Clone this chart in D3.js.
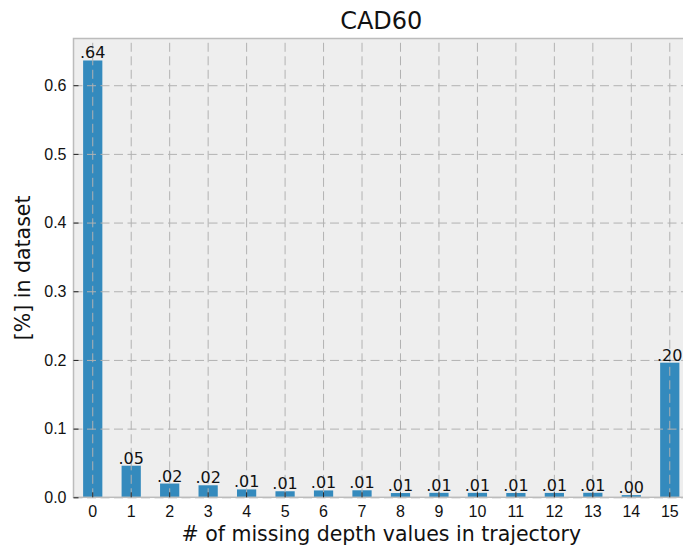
<!DOCTYPE html>
<html>
<head>
<meta charset="utf-8">
<title>CAD60</title>
<script src="https://d3js.org/d3.v7.min.js"></script>
<style>
  body { margin: 0; background: #fff; }
  svg { display: block; font-family: "DejaVu Sans", sans-serif; }
  .axis path { display: none; }
  .axis text { font-size: 16px; fill: #111; }
  .axis line { stroke: #222; stroke-width: 1; }
  .grid line { stroke: #b2b2b2; stroke-width: 1; stroke-dasharray: 9,4.5; }
  .grid path, .grid text { display: none; }
</style>
</head>
<body>
<div id="chart"></div>
<script>
// missing depth values per trajectory -> share of dataset
var categories = ["0","1","2","3","4","5","6","7","8","9","10","11","12","13","14","15"];
var shares = [0.636, 0.046, 0.020, 0.0175, 0.0115, 0.0088, 0.0100, 0.0102,
              0.0062, 0.0065, 0.0065, 0.0063, 0.0064, 0.0066, 0.0032, 0.196];
var yTicks = [0.0, 0.1, 0.2, 0.3, 0.4, 0.5, 0.6];

var W = 683, H = 547;
var margin = {left: 73.5, top: 38.5, bottom: 497.3, right: 689};
var width = margin.right - margin.left, height = margin.bottom - margin.top;

var svg = d3.select("#chart").append("svg")
  .attr("width", W).attr("height", H);

var g = svg.append("g").attr("transform", "translate(" + margin.left + "," + margin.top + ")");

var x = d3.scaleBand()
  .domain(categories)
  .range([0, width])
  .paddingInner(0.5)
  .paddingOuter(0.25);

var y = d3.scaleLinear().domain([0, 0.668]).range([height, 0]);

// background
g.append("rect")
  .attr("width", width).attr("height", height)
  .attr("fill", "#eeeeee");

// bars
g.selectAll(".bar")
  .data(shares)
  .enter().append("rect")
  .attr("class", "bar")
  .attr("x", function(d, i) { return x(categories[i]); })
  .attr("width", x.bandwidth())
  .attr("y", function(d) { return y(d); })
  .attr("height", function(d) { return height - y(d); })
  .attr("fill", "#348abd");

// grid on top of bars
g.append("g").attr("class", "grid")
  .call(d3.axisLeft(y).tickValues(yTicks).tickSize(-width).tickFormat(""));
g.append("g").attr("class", "grid")
  .attr("transform", "translate(0," + height + ")")
  .call(d3.axisBottom(x).tickSize(-height).tickFormat(""));

// frame
g.append("rect")
  .attr("width", width).attr("height", height)
  .attr("fill", "none")
  .attr("stroke", "#bcbcbc")
  .attr("stroke-width", 1.5);

// axes with inward ticks
g.append("g").attr("class", "axis")
  .attr("transform", "translate(0," + height + ")")
  .call(d3.axisBottom(x).tickSizeInner(-5).tickSizeOuter(0).tickPadding(8));

g.append("g").attr("class", "axis")
  .call(d3.axisLeft(y).tickValues(yTicks).tickFormat(d3.format(".1f"))
    .tickSizeInner(-5).tickSizeOuter(0).tickPadding(7));

// value labels
g.selectAll(".lbl")
  .data(shares)
  .enter().append("text")
  .attr("class", "lbl")
  .attr("x", function(d, i) { return x(categories[i]) + x.bandwidth() / 2; })
  .attr("y", function(d) { return y(d) - 2; })
  .attr("text-anchor", "middle")
  .attr("font-size", "16px")
  .attr("fill", "#111")
  .text(function(d) { return d.toFixed(2).replace(/^0/, ""); });

// title & labels
svg.append("text")
  .attr("x", margin.left + width / 2).attr("y", 29)
  .attr("text-anchor", "middle")
  .attr("font-size", "24px")
  .attr("fill", "#111")
  .text("CAD60");

svg.append("text")
  .attr("x", margin.left + width / 2).attr("y", 541)
  .attr("text-anchor", "middle")
  .attr("font-size", "20.5px")
  .attr("fill", "#111")
  .text("# of missing depth values in trajectory");

svg.append("text")
  .attr("transform", "translate(30," + (margin.top + height / 2) + ") rotate(-90)")
  .attr("text-anchor", "middle")
  .attr("font-size", "20.5px")
  .attr("fill", "#111")
  .text("[%] in dataset");
</script>
</body>
</html>
